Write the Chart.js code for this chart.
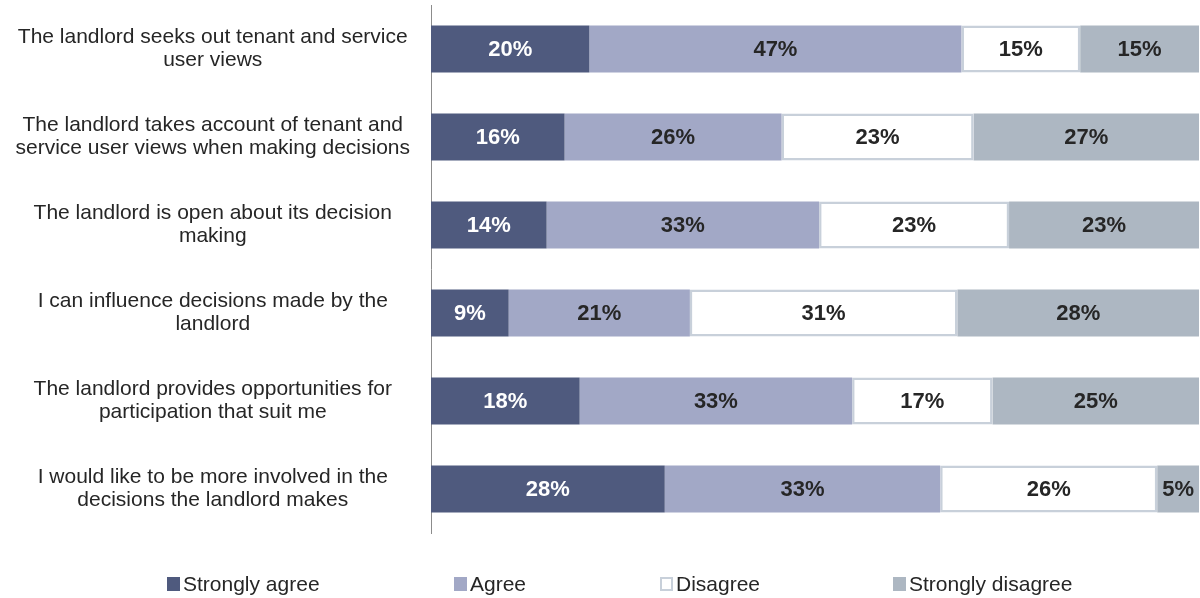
<!DOCTYPE html>
<html>
<head>
<meta charset="utf-8">
<script src="https://cdn.jsdelivr.net/npm/chart.js@4.4.1/dist/chart.umd.min.js"></script>
<style>
  html, body { margin: 0; padding: 0; background: #ffffff; }
  #wrap { position: relative; width: 1200px; height: 598px; }
</style>
</head>
<body>
<div id="wrap"><canvas id="c" width="1200" height="598"></canvas></div>
<script>
const categories = [
  ["The landlord seeks out tenant and service", "user views"],
  ["The landlord takes account of tenant and", "service user views when making decisions"],
  ["The landlord is open about its decision", "making"],
  ["I can influence decisions made by the", "landlord"],
  ["The landlord provides opportunities for", "participation that suit me"],
  ["I would like to be more involved in the", "decisions the landlord makes"]
];
const seriesNames = ["Strongly agree", "Agree", "Disagree", "Strongly disagree"];
const stronglyAgree = [20, 16, 14, 9, 18, 28];
const agree = [47, 26, 33, 21, 33, 33];
const disagree = [15, 23, 23, 31, 17, 26];
const stronglyDisagree = [15, 27, 23, 28, 25, 5];

const rawSeries = [stronglyAgree, agree, disagree, stronglyDisagree];
const fills = ["#4f5a7e", "#a2a8c6", "#ffffff", "#adb7c2"];
const borders = ["#4f5a7e", "#a2a8c6", "#c8d0da", "#adb7c2"];
const labelColors = ["#ffffff", "#262626", "#262626", "#262626"];
const legendX = [167, 454, 660, 893];

const rowTotals = categories.map((_, i) => rawSeries.reduce((s, arr) => s + arr[i], 0));

const datasets = rawSeries.map((arr, k) => ({
  label: seriesNames[k],
  data: arr.map((v, i) => v / rowTotals[i] * 100),
  raw: arr,
  backgroundColor: fills[k],
  borderColor: borders[k],
  borderWidth: k === 2 ? 2.5 : 0,
  borderSkipped: false,
  barPercentage: 0.534,
  categoryPercentage: 1.0
}));

const FONT = "'Liberation Sans', Arial, sans-serif";

const valueLabels = {
  id: 'valueLabels',
  afterDatasetsDraw(chart) {
    const ctx = chart.ctx;
    ctx.save();
    ctx.font = "bold 22px " + FONT;
    ctx.textAlign = 'center';
    ctx.textBaseline = 'middle';
    chart.data.datasets.forEach((ds, k) => {
      const meta = chart.getDatasetMeta(k);
      meta.data.forEach((bar, i) => {
        const x = (bar.x + bar.base) / 2;
        ctx.fillStyle = labelColors[k];
        ctx.fillText(ds.raw[i] + '%', x, bar.y + 1);
      });
    });
    ctx.restore();
  }
};

const customLegend = {
  id: 'customLegend',
  afterDraw(chart) {
    const ctx = chart.ctx;
    ctx.save();
    ctx.font = "21px " + FONT;
    ctx.textBaseline = 'middle';
    ctx.textAlign = 'left';
    const yc = 584;
    seriesNames.forEach((name, k) => {
      const x = legendX[k];
      ctx.fillStyle = fills[k];
      ctx.fillRect(x, yc - 7, 13, 14);
      if (k === 2) {
        ctx.strokeStyle = borders[k];
        ctx.lineWidth = 2;
        ctx.strokeRect(x + 1, yc - 6, 11, 12);
      }
      ctx.fillStyle = '#262626';
      ctx.fillText(name, x + 16, yc + 1);
    });
    ctx.restore();
  }
};

new Chart(document.getElementById('c'), {
  type: 'bar',
  data: { labels: categories, datasets },
  options: {
    indexAxis: 'y',
    responsive: false,
    animation: false,
    layout: { padding: { top: 5, bottom: 65, left: 0, right: 1 } },
    plugins: {
      legend: { display: false },
      tooltip: { enabled: false }
    },
    scales: {
      x: {
        stacked: true,
        display: false,
        min: 0,
        max: 100
      },
      y: {
        stacked: true,
        grid: { display: false },
        border: { display: true, color: '#8c8c8c', width: 1 },
        ticks: {
          color: '#262626',
          font: { family: FONT, size: 21, lineHeight: 1.1 },
          padding: 13,
          crossAlign: 'center'
        },
        afterFit(scale) {
          scale.width = 431;
          scale.paddingTop = 0;
          scale.paddingBottom = 0;
        }
      }
    }
  },
  plugins: [valueLabels, customLegend]
});
</script>
</body>
</html>
